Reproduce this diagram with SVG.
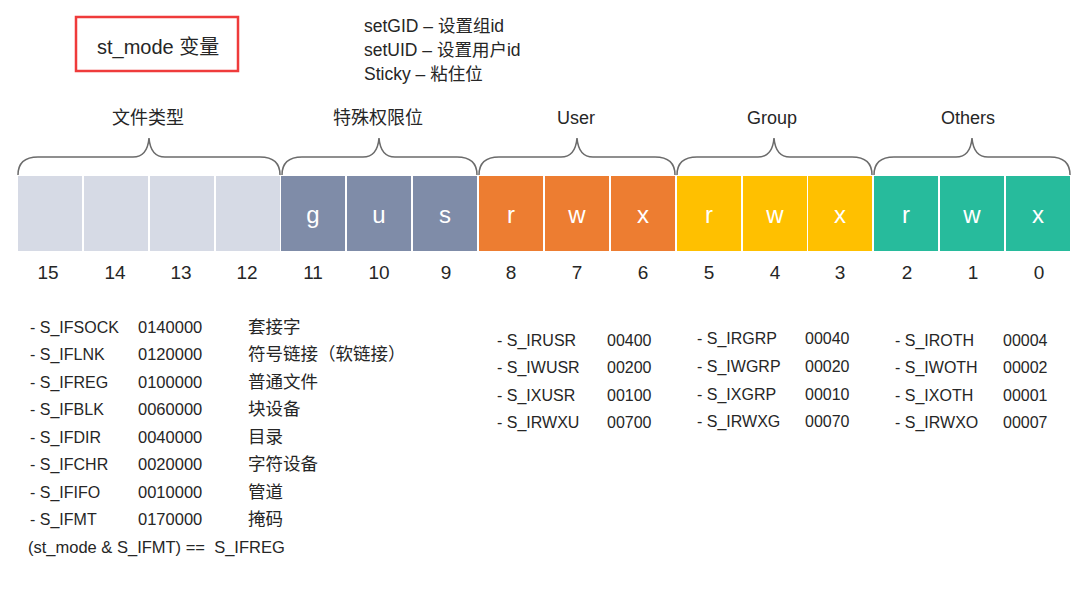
<svg xmlns="http://www.w3.org/2000/svg" width="1079" height="600" viewBox="0 0 1079 600">
<style>
text{font-family:"Liberation Sans","Noto Sans CJK SC",sans-serif;fill:#262626}
.t16{font-size:16px}
.cn{font-size:17.5px}
.lbl{font-size:18px;text-anchor:middle}
.num{font-size:19px;text-anchor:middle}
.bit{font-size:24px;text-anchor:middle;fill:#ffffff}
.brace{fill:none;stroke:#6b6b6b;stroke-width:1.5}
.ft{fill:#D6DAE5}.sp{fill:#7F8CA8}.us{fill:#ED7D31}.gr{fill:#FFC000}.ot{fill:#27BB9C}
</style>
<rect width="1079" height="600" fill="#ffffff"/>
<g id="title">
<rect x="76" y="17" width="162" height="54" fill="none" stroke="#EF3B3B" stroke-width="2.5"/>
<text x="97" y="54" style="font-size:20px">st_mode 变量</text>
</g>
<g id="notes" style="font-size:17.5px">
<text x="364" y="32">setGID – 设置组id</text>
<text x="364" y="56">setUID – 设置用户id</text>
<text x="364" y="80">Sticky – 粘住位</text>
</g>
<g id="braces">
<path class="brace" d="M18,175 C18,164 24,157 38,157 L133,157 C143,157 148,150 149,138 C150,150 155,157 165,157 L260,157 C274,157 280,164 280,175"/>
<path class="brace" d="M282,175 C282,164 288,157 302,157 L363,157 C373,157 378,150 379,138 C380,150 385,157 395,157 L457,157 C471,157 477,164 477,175"/>
<path class="brace" d="M479,175 C479,164 485,157 499,157 L561,157 C571,157 576,150 577,138 C578,150 583,157 593,157 L655,157 C669,157 675,164 675,175"/>
<path class="brace" d="M677,175 C677,164 683,157 697,157 L758,157 C768,157 773,150 774,138 C775,150 780,157 790,157 L852,157 C866,157 872,164 872,175"/>
<path class="brace" d="M874,175 C874,164 880,157 894,157 L956,157 C966,157 971,150 972,138 C973,150 978,157 988,157 L1050,157 C1064,157 1070,164 1070,175"/>
</g>
<g id="group-labels" class="lbl">
<text x="148" y="124">文件类型</text>
<text x="378" y="124">特殊权限位</text>
<text x="576" y="124">User</text>
<text x="772" y="124">Group</text>
<text x="968" y="124">Others</text>
</g>
<g id="file-type">
<rect class="ft" x="18" y="176" width="64" height="75"/>
<rect class="ft" x="84" y="176" width="64" height="75"/>
<rect class="ft" x="150" y="176" width="64" height="75"/>
<rect class="ft" x="216" y="176" width="64" height="75"/>
</g>
<g id="special">
<rect class="sp" x="281" y="176" width="64" height="75"/>
<rect class="sp" x="347" y="176" width="64" height="75"/>
<rect class="sp" x="413" y="176" width="64" height="75"/>
<text class="bit" x="313" y="223">g</text>
<text class="bit" x="379" y="223">u</text>
<text class="bit" x="445" y="223">s</text>
</g>
<g id="user">
<rect class="us" x="479" y="176" width="64" height="75"/>
<rect class="us" x="545" y="176" width="64" height="75"/>
<rect class="us" x="611" y="176" width="64" height="75"/>
<text class="bit" x="511" y="223">r</text>
<text class="bit" x="577" y="223">w</text>
<text class="bit" x="643" y="223">x</text>
</g>
<g id="group">
<rect class="gr" x="677" y="176" width="64" height="75"/>
<rect class="gr" x="743" y="176" width="64" height="75"/>
<rect class="gr" x="808" y="176" width="64" height="75"/>
<text class="bit" x="709" y="223">r</text>
<text class="bit" x="775" y="223">w</text>
<text class="bit" x="840" y="223">x</text>
</g>
<g id="others">
<rect class="ot" x="874" y="176" width="64" height="75"/>
<rect class="ot" x="940" y="176" width="64" height="75"/>
<rect class="ot" x="1006" y="176" width="64" height="75"/>
<text class="bit" x="906" y="223">r</text>
<text class="bit" x="972" y="223">w</text>
<text class="bit" x="1038" y="223">x</text>
</g>
<g id="bit-numbers" class="num">
<text x="48" y="279">15</text>
<text x="115" y="279">14</text>
<text x="181" y="279">13</text>
<text x="247" y="279">12</text>
<text x="313" y="279">11</text>
<text x="379" y="279">10</text>
<text x="446" y="279">9</text>
<text x="511" y="279">8</text>
<text x="577" y="279">7</text>
<text x="643" y="279">6</text>
<text x="709" y="279">5</text>
<text x="775" y="279">4</text>
<text x="840" y="279">3</text>
<text x="907" y="279">2</text>
<text x="973" y="279">1</text>
<text x="1039" y="279">0</text>
</g>
<g id="file-type-list" class="t16">
<text x="30" y="333">- S_IFSOCK</text><text x="138" y="333" style="font-size:16.5px">0140000</text><text class="cn" x="248" y="333">套接字</text>
<text x="30" y="360">- S_IFLNK</text><text x="138" y="360" style="font-size:16.5px">0120000</text><text class="cn" x="248" y="360">符号链接（软链接）</text>
<text x="30" y="388">- S_IFREG</text><text x="138" y="388" style="font-size:16.5px">0100000</text><text class="cn" x="248" y="388">普通文件</text>
<text x="30" y="415">- S_IFBLK</text><text x="138" y="415" style="font-size:16.5px">0060000</text><text class="cn" x="248" y="415">块设备</text>
<text x="30" y="443">- S_IFDIR</text><text x="138" y="443" style="font-size:16.5px">0040000</text><text class="cn" x="248" y="443">目录</text>
<text x="30" y="470">- S_IFCHR</text><text x="138" y="470" style="font-size:16.5px">0020000</text><text class="cn" x="248" y="470">字符设备</text>
<text x="30" y="498">- S_IFIFO</text><text x="138" y="498" style="font-size:16.5px">0010000</text><text class="cn" x="248" y="498">管道</text>
<text x="30" y="525">- S_IFMT</text><text x="138" y="525" style="font-size:16.5px">0170000</text><text class="cn" x="248" y="525">掩码</text>
<text x="28" y="553" xml:space="preserve" style="font-size:16.5px">(st_mode &amp; S_IFMT) ==  S_IFREG</text>
</g>
<g id="user-list" class="t16">
<text x="497" y="346">- S_IRUSR</text><text x="607" y="346">00400</text>
<text x="497" y="373">- S_IWUSR</text><text x="607" y="373">00200</text>
<text x="497" y="401">- S_IXUSR</text><text x="607" y="401">00100</text>
<text x="497" y="428">- S_IRWXU</text><text x="607" y="428">00700</text>
</g>
<g id="group-list" class="t16">
<text x="697" y="344">- S_IRGRP</text><text x="805" y="344">00040</text>
<text x="697" y="372">- S_IWGRP</text><text x="805" y="372">00020</text>
<text x="697" y="400">- S_IXGRP</text><text x="805" y="400">00010</text>
<text x="697" y="427">- S_IRWXG</text><text x="805" y="427">00070</text>
</g>
<g id="others-list" class="t16">
<text x="895" y="346">- S_IROTH</text><text x="1003" y="346">00004</text>
<text x="895" y="373">- S_IWOTH</text><text x="1003" y="373">00002</text>
<text x="895" y="401">- S_IXOTH</text><text x="1003" y="401">00001</text>
<text x="895" y="428">- S_IRWXO</text><text x="1003" y="428">00007</text>
</g>
</svg>
